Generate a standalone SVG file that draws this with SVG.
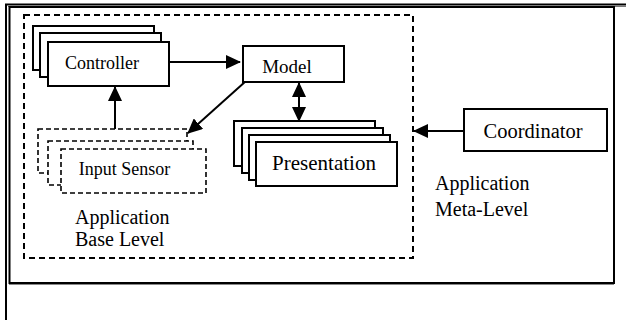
<svg xmlns="http://www.w3.org/2000/svg" width="626" height="320" viewBox="0 0 626 320" font-family="'Liberation Serif', 'DejaVu Serif', serif">
  <style>
    .box { fill: #fff; stroke: #000; stroke-width: 2; }
    .dbox { fill: #fff; stroke: #000; stroke-width: 1.6; stroke-dasharray: 5 3; }
    .region { fill: none; stroke: #000; stroke-width: 2; stroke-dasharray: 6 4; }
    .edge { fill: none; stroke: #000; stroke-width: 2; }
    text { font-family: "Liberation Serif", "DejaVu Serif", serif; fill: #000; }
  </style>
  <defs>
    <marker id="arrow" viewBox="0 0 15 14" refX="14" refY="7" markerWidth="15" markerHeight="14" markerUnits="userSpaceOnUse" orient="auto-start-reverse">
      <path d="M0,0 L15,7 L0,14 Z" fill="#000"/>
    </marker>
  </defs>

  <!-- page frame -->
  <g id="frame">
    <rect x="0" y="0" width="626" height="320" fill="#fff"/>
    <line x1="5" y1="4.5" x2="626" y2="4.5" stroke="#000" stroke-width="2"/>
    <line x1="8" y1="6.5" x2="626" y2="6.5" stroke="#777" stroke-width="1.2"/>
    <line x1="6" y1="4" x2="6" y2="320" stroke="#000" stroke-width="2"/>
    <rect x="9.5" y="7" width="604.5" height="276" fill="none" stroke="#000" stroke-width="2"/>
    <line x1="9" y1="284.5" x2="614" y2="284.5" stroke="#888" stroke-width="1"/>
  </g>

  <!-- base level region -->
  <g id="base-level">
    <rect class="region" x="24" y="15" width="389" height="243"/>
    <text x="75" y="224" font-size="20">Application</text>
    <text x="75" y="246" font-size="20">Base Level</text>
  </g>

  <g id="meta-level-label">
    <text x="435" y="190" font-size="20">Application</text>
    <text x="435" y="216" font-size="20">Meta-Level</text>
  </g>

  <!-- connectors -->
  <g id="connectors">
    <line class="edge" x1="169" y1="62" x2="240" y2="62" marker-end="url(#arrow)"/>
    <line class="edge" x1="246" y1="81" x2="188" y2="133" marker-end="url(#arrow)"/>
    <line class="edge" x1="299" y1="83" x2="299" y2="121" marker-start="url(#arrow)" marker-end="url(#arrow)"/>
    <line class="edge" x1="115" y1="129" x2="115" y2="87" marker-end="url(#arrow)"/>
    <line class="edge" x1="464" y1="131" x2="414" y2="131" marker-end="url(#arrow)"/>
  </g>

  <g id="controller">
    <rect class="box" x="33" y="26" width="121" height="44"/>
    <rect class="box" x="40" y="33" width="121" height="44"/>
    <rect class="box" x="48" y="42" width="121" height="44"/>
    <text x="102" y="69" font-size="18" text-anchor="middle">Controller</text>
  </g>

  <g id="model">
    <rect class="box" x="243" y="46" width="101" height="36"/>
    <text x="287" y="73" font-size="19" text-anchor="middle">Model</text>
  </g>

  <g id="input-sensor">
    <rect class="dbox" x="38" y="129" width="149" height="44"/>
    <rect class="dbox" x="48" y="141" width="145" height="44"/>
    <rect class="dbox" x="61" y="149" width="145" height="44"/>
    <text x="124.5" y="175" font-size="18" text-anchor="middle">Input Sensor</text>
  </g>

  <g id="presentation">
    <rect class="box" x="234" y="121" width="141" height="45"/>
    <rect class="box" x="242" y="128" width="141" height="45"/>
    <rect class="box" x="249" y="135" width="141" height="45"/>
    <rect class="box" x="256" y="142" width="141" height="44"/>
    <text x="324" y="170" font-size="21" text-anchor="middle">Presentation</text>
  </g>

  <g id="coordinator">
    <rect class="box" x="464" y="109" width="143" height="42"/>
    <text x="533" y="138" font-size="20.5" text-anchor="middle">Coordinator</text>
  </g>
</svg>
